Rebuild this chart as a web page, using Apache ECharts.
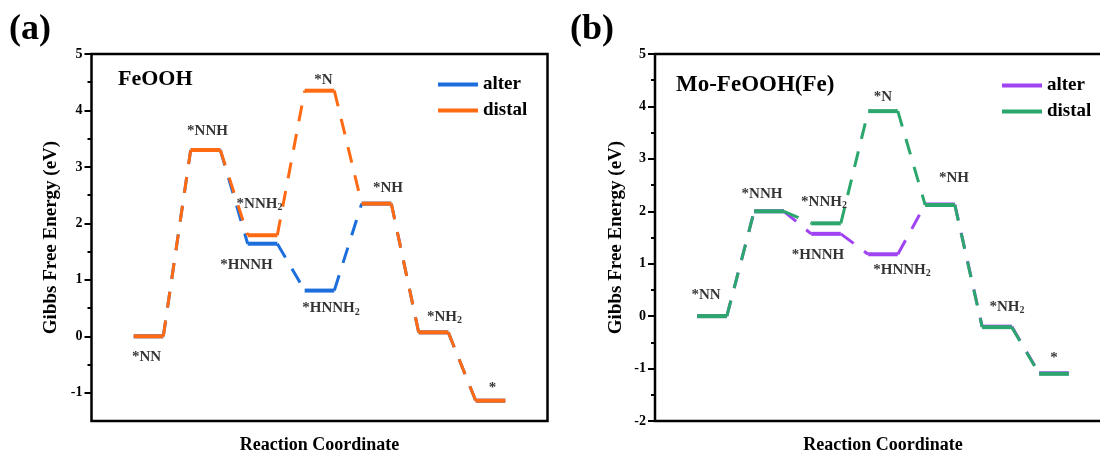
<!DOCTYPE html>
<html>
<head>
<meta charset="utf-8">
<script src="https://cdn.jsdelivr.net/npm/echarts@6/dist/echarts.min.js"></script>
<style>
  html, body { margin: 0; padding: 0; background: #ffffff; }
  #chart { width: 1100px; height: 453px; }
</style>
</head>
<body>
<div id="chart"></div>
<script>
// Gibbs free energy (eV) along the N2 reduction steps, one value per intermediate
const feoohAlter  = [0, 3.30, 1.64, 0.81, 2.35, 0.07, -1.14];
const feoohDistal = [0, 3.30, 1.79, 4.35, 2.35, 0.07, -1.14];
const moAlter     = [0, 2.00, 1.57, 1.18, 2.13, -0.20, -1.09];
const moDistal    = [0, 2.00, 1.77, 3.91, 2.12, -0.21, -1.10];

// intermediates on each pathway (trailing digit is written as a subscript)
const alterSpecies  = ['*NN', '*NNH', '*HNNH', '*HNNH2', '*NH', '*NH2', '*'];
const distalSpecies = ['*NN', '*NNH', '*NNH2', '*N', '*NH', '*NH2', '*'];

// y-axis ticks
const yTicksA = [-1, 0, 1, 2, 3, 4, 5];
const yMinorA = [-0.5, 0.5, 1.5, 2.5, 3.5, 4.5];
const yTicksB = [-2, -1, 0, 1, 2, 3, 4, 5];
const yMinorB = [-1.5, -0.5, 0.5, 1.5, 2.5, 3.5, 4.5];

const SERIF = '"Liberation Serif", "Times New Roman", serif';
const COLORS = {
  feoohAlter: '#1C6EDC', feoohDistal: '#FF6A12',
  moAlter: '#A043F2', moDistal: '#2BA66C'
};
const HALF = 0.26;          // half width of an energy level, in step units

// where each species name sits relative to its level (pixels)
const labelLayoutA = [
  { step: 0, path: 'distal', dx: -2,   dy: 21 },
  { step: 1, path: 'distal', dx: 2,    dy: -18.5 },
  { step: 2, path: 'distal', dx: -3,   dy: -31 },
  { step: 2, path: 'alter',  dx: -16,  dy: 21 },
  { step: 3, path: 'distal', dx: 4,    dy: -11 },
  { step: 3, path: 'alter',  dx: 11.5, dy: 18 },
  { step: 4, path: 'distal', dx: 11.5, dy: -15.5 },
  { step: 5, path: 'distal', dx: 11,   dy: -15 },
  { step: 6, path: 'distal', dx: 2,    dy: -13 }
];
const labelLayoutB = [
  { step: 0, path: 'distal', dx: -6, dy: -21 },
  { step: 1, path: 'distal', dx: -7, dy: -17 },
  { step: 2, path: 'distal', dx: -2, dy: -21.5 },
  { step: 2, path: 'alter',  dx: -8, dy: 21 },
  { step: 3, path: 'distal', dx: 0,  dy: -14 },
  { step: 3, path: 'alter',  dx: 19, dy: 15.5 },
  { step: 4, path: 'distal', dx: 14, dy: -27 },
  { step: 5, path: 'distal', dx: 10, dy: -20.5 },
  { step: 6, path: 'distal', dx: 0,  dy: -15.5 }
];

function levelSeries(name, values, color, xi, yi, z) {
  return {
    type: 'custom', name: name, xAxisIndex: xi, yAxisIndex: yi, z: z,
    color: color, itemStyle: { color: color }, silent: true,
    encode: { x: 0, y: 1 },
    data: values.map((v, i) => [i, v]),
    renderItem: function (params, api) {
      const a = api.coord([api.value(0) - HALF, api.value(1)]);
      const b = api.coord([api.value(0) + HALF, api.value(1)]);
      return {
        type: 'line',
        shape: { x1: a[0], y1: a[1], x2: b[0], y2: b[1] },
        style: { stroke: color, lineWidth: 4, lineCap: 'butt' }
      };
    }
  };
}

function connectorSeries(name, values, color, xi, yi, z) {
  return {
    type: 'custom', name: name, xAxisIndex: xi, yAxisIndex: yi, z: z,
    color: color, itemStyle: { color: color }, silent: true,
    encode: { x: 0, y: [1, 2] },
    data: values.slice(0, -1).map((v, i) => [i, v, values[i + 1]]),
    renderItem: function (params, api) {
      const i = api.value(0);
      const a = api.coord([i + HALF, api.value(1)]);
      const b = api.coord([i + 1 - HALF, api.value(2)]);
      return {
        type: 'line',
        shape: { x1: a[0], y1: a[1], x2: b[0], y2: b[1] },
        style: { stroke: color, lineWidth: 3, lineDash: [16, 13], lineCap: 'butt' }
      };
    }
  };
}

function labelSeries(layout, alter, distal, xi, yi) {
  return {
    type: 'scatter', xAxisIndex: xi, yAxisIndex: yi, z: 10, silent: true,
    symbolSize: 0, itemStyle: { color: 'transparent' },
    data: layout.map(l => {
      const vals = l.path === 'alter' ? alter : distal;
      const names = l.path === 'alter' ? alterSpecies : distalSpecies;
      return {
        name: names[l.step],
        value: [l.step, vals[l.step]],
        label: { offset: [l.dx, l.dy] }
      };
    }),
    label: {
      show: true, position: 'inside',
      formatter: p => p.name.replace(/(\d)$/, '{s|$1}'),
      color: '#000', fontFamily: SERIF, fontWeight: 'bold', fontSize: 15, lineHeight: 17,
      rich: { s: { fontFamily: SERIF, fontWeight: 'bold', fontSize: 10, lineHeight: 10,
                   verticalAlign: 'bottom', color: '#000' } }
    }
  };
}

const axisNameStyle = { fontFamily: SERIF, fontWeight: 'bold', fontSize: 19, color: '#000' };
const tickLabelStyle = { fontFamily: SERIF, fontWeight: 'bold', fontSize: 14, color: '#000' };

function xAxisFor(gi) {
  return {
    type: 'value', gridIndex: gi, min: -1, max: 7,
    axisLine: { show: false, onZero: false }, axisTick: { show: false }, axisLabel: { show: false },
    splitLine: { show: false },
    name: 'Reaction Coordinate', nameLocation: 'middle', nameGap: 15,
    nameTextStyle: Object.assign({}, axisNameStyle, { fontSize: 18 })
  };
}

function yAxesFor(gi, min, max, major, minor, gap) {
  return [{
    type: 'value', gridIndex: gi, min: min, max: max, position: 'left',
    axisLine: { show: false, onZero: false }, splitLine: { show: false },
    axisTick: { show: true, inside: false, length: 7, customValues: major,
                lineStyle: { color: '#000', width: 2 } },
    axisLabel: Object.assign({ customValues: major, margin: 9 }, tickLabelStyle),
    name: 'Gibbs Free Energy (eV)', nameLocation: 'middle', nameGap: gap,
    nameTextStyle: axisNameStyle
  }, {
    type: 'value', gridIndex: gi, min: min, max: max, position: 'left',
    axisLine: { show: false, onZero: false }, splitLine: { show: false }, axisLabel: { show: false },
    axisTick: { show: true, inside: false, length: 4, customValues: minor,
                lineStyle: { color: '#000', width: 2 } }
  }];
}

function legendFor(names, colors, left, top) {
  return {
    orient: 'vertical', left: left, top: top, padding: 0, itemGap: 7,
    icon: 'rect', itemWidth: 40, itemHeight: 4, selectedMode: false,
    data: names.map((n, k) => ({ name: n, itemStyle: { color: colors[k] } })),
    formatter: n => n.split(' ').pop(),
    textStyle: { fontFamily: SERIF, fontWeight: 'bold', fontSize: 19, color: '#000' }
  };
}

// plot frames keep their exact place; the right one runs past the page edge
const gridBox = { show: true, borderColor: '#000', borderWidth: 2.5, backgroundColor: 'transparent',
                  top: 54, width: 456, height: 367, containLabel: false, outerBoundsMode: 'none' };

const option = {
  backgroundColor: '#ffffff',
  animation: false,
  title: [
    { text: '(a)', left: 9, top: 12, padding: 0,
      textStyle: { fontFamily: SERIF, fontWeight: 'bold', fontSize: 36, color: '#000' } },
    { text: '(b)', left: 570, top: 12, padding: 0,
      textStyle: { fontFamily: SERIF, fontWeight: 'bold', fontSize: 36, color: '#000' } },
    { text: 'FeOOH', left: 118, top: 68, padding: 0,
      textStyle: { fontFamily: SERIF, fontWeight: 'bold', fontSize: 22, color: '#000' } },
    { text: 'Mo-FeOOH(Fe)', left: 676, top: 74, padding: 0,
      textStyle: { fontFamily: SERIF, fontWeight: 'bold', fontSize: 23, color: '#000' } }
  ],
  legend: [
    legendFor(['FeOOH alter', 'FeOOH distal'], [COLORS.feoohAlter, COLORS.feoohDistal], 438, 75),
    legendFor(['Mo-FeOOH(Fe) alter', 'Mo-FeOOH(Fe) distal'], [COLORS.moAlter, COLORS.moDistal], 1002, 76)
  ],
  grid: [
    Object.assign({ left: 91.5 }, gridBox),
    Object.assign({ left: 655 }, gridBox)
  ],
  xAxis: [xAxisFor(0), xAxisFor(1)],
  yAxis: [].concat(
    yAxesFor(0, -1.5, 5, yTicksA, yMinorA, 31),
    yAxesFor(1, -2, 5, yTicksB, yMinorB, 29)
  ),
  series: [
    connectorSeries('FeOOH alter', feoohAlter, COLORS.feoohAlter, 0, 0, 2),
    levelSeries('FeOOH alter', feoohAlter, COLORS.feoohAlter, 0, 0, 3),
    connectorSeries('FeOOH distal', feoohDistal, COLORS.feoohDistal, 0, 0, 4),
    levelSeries('FeOOH distal', feoohDistal, COLORS.feoohDistal, 0, 0, 5),
    labelSeries(labelLayoutA, feoohAlter, feoohDistal, 0, 0),

    connectorSeries('Mo-FeOOH(Fe) alter', moAlter, COLORS.moAlter, 1, 2, 2),
    levelSeries('Mo-FeOOH(Fe) alter', moAlter, COLORS.moAlter, 1, 2, 3),
    connectorSeries('Mo-FeOOH(Fe) distal', moDistal, COLORS.moDistal, 1, 2, 4),
    levelSeries('Mo-FeOOH(Fe) distal', moDistal, COLORS.moDistal, 1, 2, 5),
    labelSeries(labelLayoutB, moAlter, moDistal, 1, 2)
  ]
};

const chart = echarts.init(document.getElementById('chart'), null, { renderer: 'canvas' });
chart.setOption(option);
</script>
</body>
</html>
